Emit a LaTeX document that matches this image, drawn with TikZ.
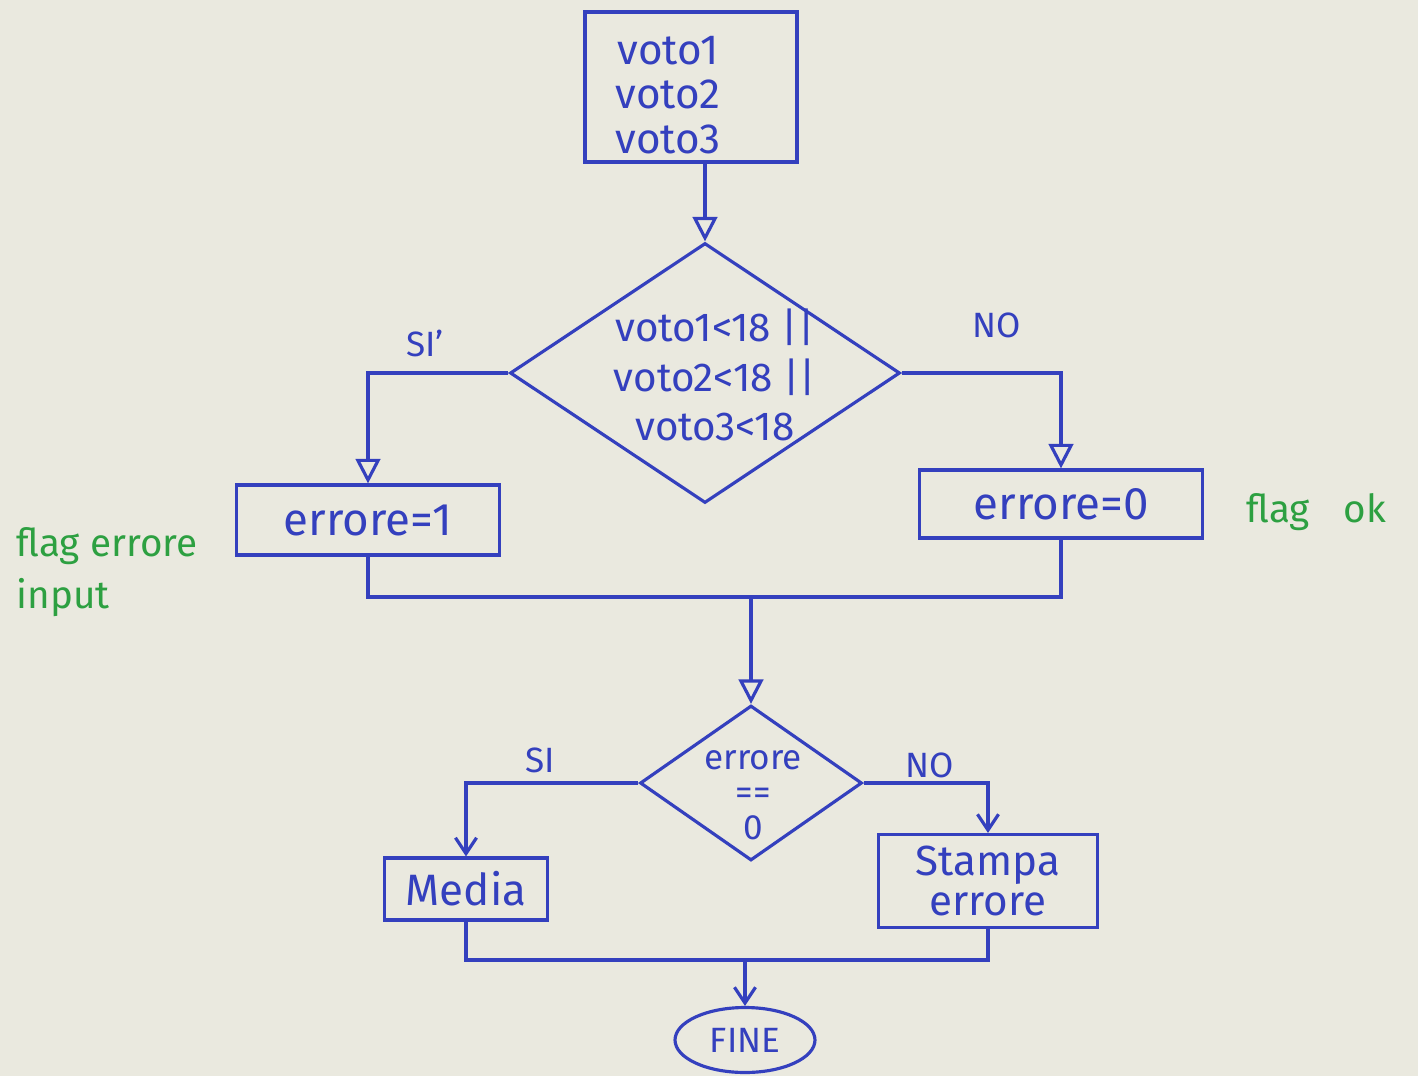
\documentclass[tikz,border=0pt]{standalone}
\usepackage{fontspec}
\setmainfont{Fira Sans}
\usetikzlibrary{shapes.geometric,arrows.meta}
\definecolor{paper}{RGB}{234,233,223}
\definecolor{ink}{RGB}{52,64,190}
\definecolor{greenink}{RGB}{45,160,65}
\begin{document}
\begin{tikzpicture}[x=0.02cm,y=-0.02cm,
  line width=1.8pt,
  box/.style={draw=ink,text=ink,rectangle,inner sep=0pt,align=center},
  dia/.style={draw=ink,text=ink,diamond,inner sep=0pt,align=center},
  txt/.style={text=ink,align=center,inner sep=0pt},
  lbl/.style={text=ink,inner sep=1pt,font=\fontsize{20}{22}\selectfont},
  note/.style={text=greenink,inner sep=0pt,align=left,font=\fontsize{22}{30}\selectfont},
  conn/.style={draw=ink},
  bigarr/.style={draw=ink,-{Triangle[open,length=14pt,width=14pt]}},
  smallarr/.style={draw=ink,-{Straight Barb[length=9pt,width=12pt]}}]
\fill[paper] (0,0) rectangle (1418,1076);
\useasboundingbox (0,0) rectangle (1418,1076);

% nodes
\node[box,minimum width=4.24cm,minimum height=3.0cm] (top) at (691,87) {};
\node[txt,font=\fontsize{24}{25.5}\selectfont] (topt) at (668,95) {voto1\\voto2\\voto3};
\node[dia,minimum width=7.8cm,minimum height=5.2cm] (d1) at (705,373) {};
\node[txt,font=\fontsize{23}{28}\selectfont] (d1t) at (715,375) {voto1<18 ||\\voto2<18 ||\\voto3<18};
\node[box,minimum width=5.26cm,minimum height=1.4cm,font=\fontsize{26}{30}\selectfont] (e1) at (368,520) {errore=1};
\node[box,minimum width=5.66cm,minimum height=1.36cm,font=\fontsize{26}{30}\selectfont] (e0) at (1061,504) {errore=0};
\node[dia,minimum width=4.44cm,minimum height=3.1cm] (d2) at (751,783) {};
\node[txt,font=\fontsize{20}{20}\selectfont] (d2t) at (753,795) {errore\\==\\0};
\node[box,minimum width=3.26cm,minimum height=1.24cm,font=\fontsize{25}{30}\selectfont] (media) at (466,889) {Media};
\node[box,minimum width=4.38cm,minimum height=1.86cm,font=\fontsize{24}{23}\selectfont] (st) at (988,881) {Stampa\\errore};
\node[draw=ink,text=ink,ellipse,minimum width=2.8cm,minimum height=1.3cm,inner sep=0pt,font=\fontsize{20}{22}\selectfont] (fine) at (745,1040) {FINE};

% labels
\node[lbl] (si1) at (425,343) {SI'};
\node[lbl] (no1) at (997,325) {NO};
\node[lbl] (si2) at (540,760) {SI};
\node[lbl] (no2) at (930,765) {NO};
\node[note,anchor=west] (fe) at (15,572) {flag errore\\input};
\node[note,anchor=west] (fo) at (1245,512) {flag \hspace{0.6em}ok};

% connectors
\draw[bigarr] (d1.north |- top.south) -- (d1.north);
\draw[bigarr] (d1.west) -| (e1.north);
\draw[bigarr] (d1.east) -| (e0.north);
\coordinate (m1) at (751,597);
\draw[conn] (e1.south) |- (m1);
\draw[conn] (e0.south) |- (m1);
\draw[bigarr] (m1) -- (d2.north);
\draw[smallarr] (d2.west) -| (media.north);
\draw[smallarr] (d2.east) -| (st.north);
\coordinate (m2) at (745,960);
\draw[conn] (media.south) |- (m2);
\draw[conn] (st.south) |- (m2);
\draw[smallarr] (m2) -- (fine.north);
\end{tikzpicture}
\end{document}
